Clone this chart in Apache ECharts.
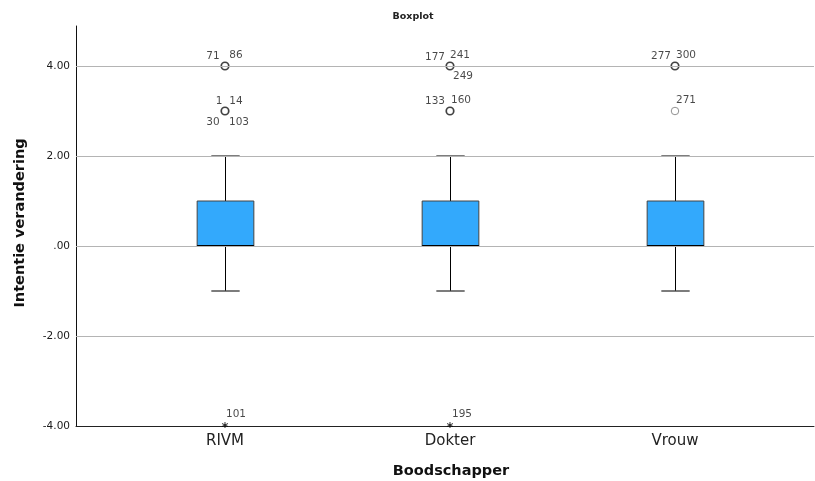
<!DOCTYPE html>
<html>
<head>
<meta charset="utf-8">
<script src="https://cdn.jsdelivr.net/npm/echarts@6/dist/echarts.min.js"></script>
<style>html,body{margin:0;padding:0;background:#fff}#c{width:815px;height:481px}</style>
</head>
<body>
<div id="c"></div>
<script>
// ---- data ----
const categories = ['RIVM', 'Dokter', 'Vrouw'];
// [categoryIndex(1-based), low whisker, Q1, median, Q3, high whisker]
const boxData = [
  [1, -1, 0, 0, 1, 2],
  [2, -1, 0, 0, 1, 2],
  [3, -1, 0, 0, 1, 2]
];
// outliers (circles): [categoryIndex, value]
const outlierPoints = [[1, 4], [1, 3], [2, 4], [2, 3], [3, 4], [3, 3]];
const outlierCases = [['71', '86'], ['1', '14', '30', '103'], ['177', '241', '249'], ['133', '160'], ['277', '300'], ['271']];
// extremes (asterisks)
const extremePoints = [[1, -4], [2, -4]];
const extremeCases = [['101'], ['195']];
const yTicks = [-4, -2, 0, 2, 4];
const yTickLabels = ['-4.00', '-2.00', '.00', '2.00', '4.00'];

// ---- layout (label offsets in px, parallel to cases) ----
const outlierLabelOffsets = [
  [[-12, -10], [11, -11]],
  [[-6, -10], [11, -10], [-12, 11], [14, 11]],
  [[-15, -9], [10, -11], [13, 10]],
  [[-15, -10], [11, -11]],
  [[-14, -10], [11, -11]],
  [[11, -11]]
];
const extremeLabelOffsets = [[[11, -12]], [[12, -12]]];

const numFont = 'DejaVu Sans';

function buildLabels(points, cases, offsets) {
  const out = [];
  points.forEach((p, i) => {
    cases[i].forEach((id, j) => {
      out.push({ value: [p[0], p[1]], name: id, label: { offset: offsets[i][j] } });
    });
  });
  return out;
}
const labelData = buildLabels(outlierPoints, outlierCases, outlierLabelOffsets)
  .concat(buildLabels(extremePoints, extremeCases, extremeLabelOffsets));

const chart = echarts.init(document.getElementById('c'), null, { renderer: 'canvas' });

const crisp = v => Math.round(v) + 0.5;

const option = {
  animation: false,
  backgroundColor: '#fff',
  grid: { left: 76, right: 1, top: 26, bottom: 55, containLabel: false },
  xAxis: {
    type: 'value',
    min: 0.3378, max: 3.6178,
    axisLine: { show: true, onZero: false, lineStyle: { color: '#222', width: 1 } },
    axisTick: { show: false },
    splitLine: { show: false },
    axisLabel: {
      customValues: [1, 2, 3],
      formatter: v => categories[Math.round(v) - 1] || '',
      fontFamily: numFont, fontSize: 15, color: '#222', margin: 8
    }
  },
  yAxis: {
    type: 'value',
    min: -4, max: 4.889,
    axisLine: { show: true, onZero: false, lineStyle: { color: '#111', width: 1 } },
    axisTick: { show: false },
    splitLine: { show: false },
    axisLabel: {
      customValues: yTicks,
      formatter: v => {
        const i = yTicks.findIndex(t => Math.abs(t - v) < 1e-6);
        return i >= 0 ? yTickLabels[i] : '';
      },
      fontFamily: numFont, fontSize: 10.5, color: '#1a1a1a', margin: 6
    }
  },
  graphic: [
    { type: 'text', x: 413, y: 17, style: { text: 'Boxplot', fontFamily: numFont, fontWeight: 'bold', fontSize: 9.5, fill: '#222', align: 'center', verticalAlign: 'middle' } },
    { type: 'text', x: 20, y: 223, rotation: Math.PI / 2, style: { text: 'Intentie verandering', fontFamily: numFont, fontWeight: 'bold', fontSize: 14.5, fill: '#111', align: 'center', verticalAlign: 'middle' } },
    { type: 'text', x: 451, y: 471, style: { text: 'Boodschapper', fontFamily: numFont, fontWeight: 'bold', fontSize: 14.5, fill: '#111', align: 'center', verticalAlign: 'middle' } }
  ],
  series: [
    {
      type: 'scatter',
      data: [],
      silent: true,
      markLine: {
        silent: true, symbol: 'none', animation: false,
        label: { show: false },
        lineStyle: { color: '#b4b4b4', width: 1, type: 'solid' },
        data: yTicks.filter(t => t !== -4).map(t => ({ yAxis: t }))
      }
    },
    {
      type: 'custom',
      data: boxData,
      encode: { x: 0, y: [1, 2, 3, 4, 5] },
      z: 3,
      renderItem: function (params, api) {
        const x = api.value(0);
        const low = api.coord([x, api.value(1)]);
        const q1 = api.coord([x, api.value(2)]);
        const med = api.coord([x, api.value(3)]);
        const q3 = api.coord([x, api.value(4)]);
        const high = api.coord([x, api.value(5)]);
        const bw = api.size([0.252, 0])[0];
        const cw = api.size([0.126, 0])[0];
        const cx = crisp(q1[0]);
        return {
          type: 'group',
          children: [
            { type: 'line', shape: { x1: cx, y1: high[1], x2: cx, y2: q3[1] }, style: { stroke: '#000', lineWidth: 1 } },
            { type: 'line', shape: { x1: cx, y1: q1[1], x2: cx, y2: low[1] }, style: { stroke: '#000', lineWidth: 1 } },
            { type: 'line', shape: { x1: cx - cw / 2, y1: high[1], x2: cx + cw / 2, y2: high[1] }, style: { stroke: '#444', lineWidth: 1.4 } },
            { type: 'line', shape: { x1: cx - cw / 2, y1: low[1], x2: cx + cw / 2, y2: low[1] }, style: { stroke: '#444', lineWidth: 1.4 } },
            { type: 'rect', shape: { x: cx - bw / 2, y: q3[1], width: bw, height: q1[1] - q3[1] }, style: { fill: '#33a9fc', stroke: '#444', lineWidth: 1 } },
            { type: 'line', shape: { x1: cx - bw / 2, y1: med[1], x2: cx + bw / 2, y2: med[1] }, style: { stroke: '#000', lineWidth: 2 } }
          ]
        };
      }
    },
    {
      type: 'scatter',
      z: 4,
      data: outlierPoints.map((p, i) => ({
        value: p,
        itemStyle: outlierCases[i].length > 1
          ? { borderColor: '#111', borderWidth: 1.7 }
          : { borderColor: '#777', borderWidth: 1 }
      })),
      symbol: 'circle',
      symbolSize: 7.5,
      itemStyle: { color: '#fff' }
    },
    {
      type: 'scatter',
      z: 4,
      data: extremePoints,
      symbol: 'path://M4,0L4,8M0.5,2L7.5,6M0.5,6L7.5,2',
      symbolSize: [6, 6],
      symbolOffset: [0, -1],
      itemStyle: { color: 'none', borderColor: '#000', borderWidth: 1 }
    },
    {
      type: 'scatter',
      z: 5,
      data: labelData,
      symbolSize: 0,
      label: {
        show: true, position: 'inside',
        formatter: p => p.name,
        fontFamily: numFont, fontSize: 10.5, color: '#1a1a1a'
      }
    }
  ]
};
chart.setOption(option);
</script>
</body>
</html>
